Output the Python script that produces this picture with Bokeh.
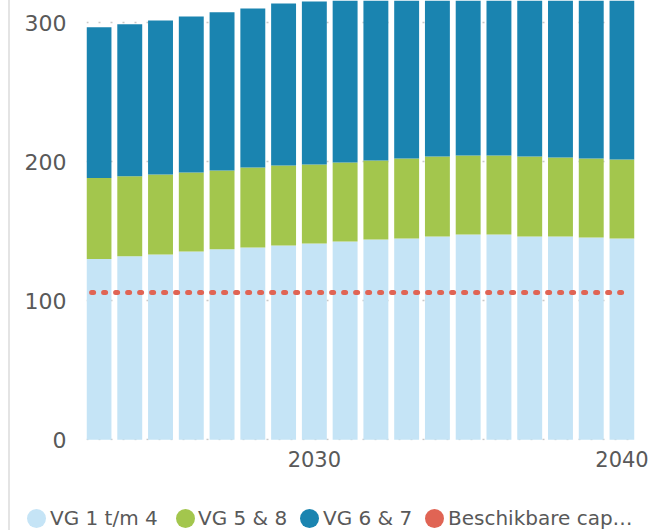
from bokeh.plotting import figure
from bokeh.layouts import column
from bokeh.models import FixedTicker, ColumnDataSource, Range1d, Div
from bokeh.embed import file_html
from bokeh.resources import INLINE

# ---- data ----
years = [2023, 2024, 2025, 2026, 2027, 2028, 2029, 2030, 2031, 2032,
         2033, 2034, 2035, 2036, 2037, 2038, 2039, 2040]
vg_1_4 = [130, 132, 133.3, 135.5, 137, 138.3, 139.8, 141.2, 142.7, 144.1,
          144.8, 146.3, 147.7, 147.7, 146.3, 146.3, 145.5, 144.8]
vg_5_8 = [58.3, 57.5, 57.6, 56.8, 56.8, 57.6, 57.5, 56.8, 56.8, 56.8,
          57.6, 57.5, 56.8, 56.8, 57.5, 56.8, 56.9, 56.9]
vg_6_7 = [108.5, 109.4, 110.8, 112.2, 113.7, 114.4, 116.6, 117.3, 118.5, 119.5,
          120.5, 121.5, 122.5, 123.0, 124.0, 125.0, 125.5, 126.0]
capacity = [106, 106, 106, 106, 106, 106, 106, 106, 106, 106,
            106, 106, 106, 106, 106, 106, 106, 106]
legend_labels = ["VG 1 t/m 4", "VG 5 & 8", "VG 6 & 7", "Beschikbare cap\u2026"]
x_ticks = [2030, 2040]
y_ticks = [0, 100, 200, 300]

# ---- styling ----
colors = ["#C5E4F6", "#A3C64D", "#1A84B0"]
red = "#E06454"
text_color = "#595959"
font = "DejaVu Sans"
edge = {"box-shadow": "inset 8px 0 0 white, inset 10px 0 0 #e4e4e4"}
legend_circle_left = [27, 176, 300, 425]   # layout of the legend strip (px)
legend_text_left = [50, 198, 323, 448]

src = ColumnDataSource(dict(year=years, a=vg_1_4, b=vg_5_8, c=vg_6_7))

p = figure(width=649, height=495, output_backend="svg", toolbar_location=None, title=None,
           x_range=Range1d(2022.594, 2040.406), y_range=Range1d(-0.5, 316.0),
           min_border_left=86, min_border_right=15, min_border_top=0, min_border_bottom=55)
p.styles = edge
p.border_fill_alpha = 0
p.background_fill_color = "white"
p.outline_line_color = None

p.vbar_stack(["a", "b", "c"], x="year", width=0.81, color=colors, line_color=None, source=src)

# capacity line (dotted)
cx = [years[0] - 0.24] + years[1:-1] + [years[-1] + 0.24]
p.line(cx, capacity, line_color=red, line_width=5, line_dash="2 10", line_cap="round")

# axes
p.xaxis.ticker = FixedTicker(ticks=x_ticks)
p.yaxis.ticker = FixedTicker(ticks=y_ticks)
for ax in (p.xaxis, p.yaxis):
    ax.axis_line_color = None
    ax.major_tick_line_color = None
    ax.minor_tick_line_color = None
    ax.major_tick_out = 0
    ax.major_tick_in = 0
    ax.major_label_text_color = text_color
    ax.major_label_text_font = font
p.xaxis.major_label_text_font_size = "21px"
p.yaxis.major_label_text_font_size = "22px"
p.yaxis.major_label_standoff = 20
p.xaxis.major_label_standoff = 10

p.xgrid.grid_line_color = None
p.ygrid.ticker = FixedTicker(ticks=y_ticks)
p.ygrid.grid_line_color = "#c8c8c8"
p.ygrid.grid_line_width = 1.5
p.ygrid.grid_line_dash = "2 10"

# ---- legend strip (HTML text) ----
parts = []
for lbl, col, cl, tl in zip(legend_labels, colors + [red], legend_circle_left, legend_text_left):
    parts.append(
        f'<span style="position:absolute;left:{cl}px;top:14px;width:19px;height:19px;'
        f'border-radius:50%;background:{col};"></span>'
        f'<span style="position:absolute;left:{tl}px;top:14px;height:19px;line-height:19px;'
        f'white-space:nowrap;">{lbl.replace("&", "&amp;")}</span>')
html = (f'<div style="position:relative;width:649px;height:35px;font-family:\'{font}\';'
        f'font-size:20px;color:{text_color};">' + "".join(parts) + '</div>')
leg = Div(text=html, width=649, height=35, margin=0, styles=edge)

layout = column(p, leg, spacing=0)
open("out.html", "w").write(file_html(layout, INLINE))
